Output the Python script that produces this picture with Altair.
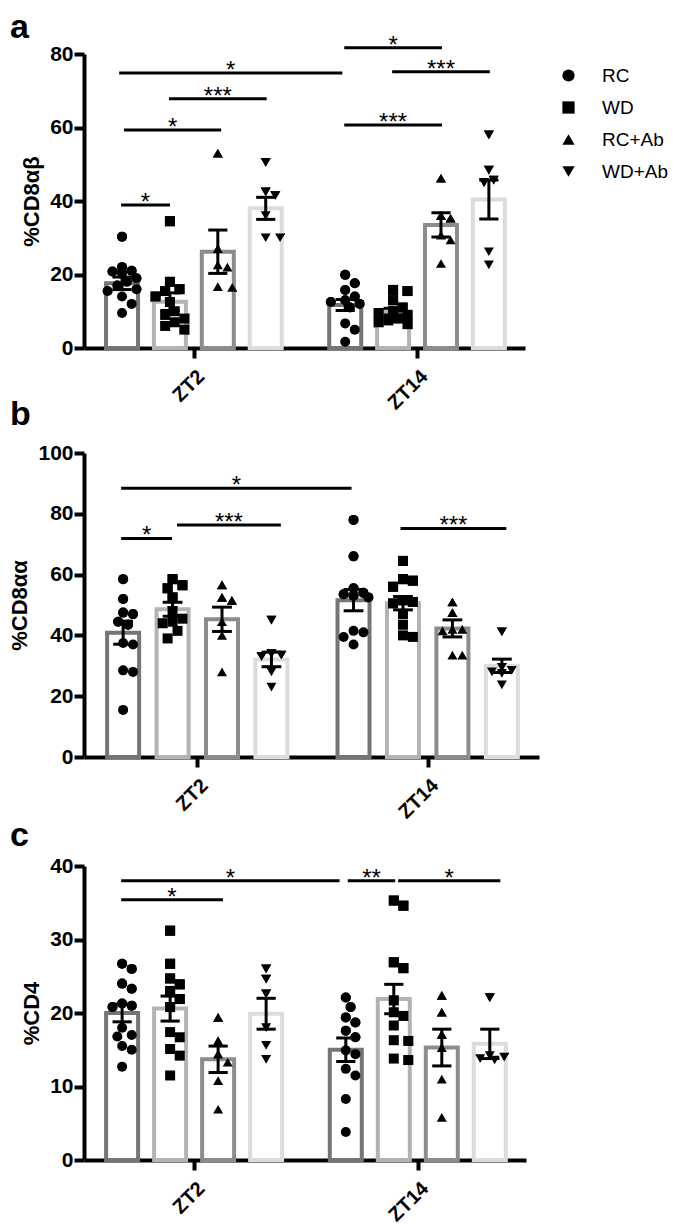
import altair as alt
import pandas as pd
import numpy as np

FONT = "Liberation Sans"
conds = ["RC", "WD", "RC+Ab", "WD+Ab"]
groups = ["ZT2", "ZT14"]
shapes = ["circle", "square", "triangle-up", "triangle-down"]
bar_strokes = ["#757575", "#b3b3b3", "#8c8c8c", "#dcdcdc"]

# ---- Panel a : %CD8ab ----
a_zt2_rc = [30.3, 22.0, 21.0, 20.8, 20.5, 19.0, 18.0, 17.0, 16.0, 15.5, 14.0, 12.0, 9.5]
a_zt2_wd = [34.5, 18.0, 16.0, 15.5, 14.0, 12.5, 10.0, 9.0, 8.0, 7.0, 6.0, 5.0]
a_zt2_rcab = [53.0, 27.0, 22.6, 22.0, 16.7, 16.5]
a_zt2_wdab = [50.5, 42.5, 41.5, 36.0, 30.0, 30.0]
a_zt14_rc = [19.9, 17.6, 15.8, 14.0, 13.0, 12.5, 12.0, 11.0, 6.7, 5.0, 1.7]
a_zt14_wd = [15.8, 15.5, 13.0, 11.0, 10.0, 9.5, 9.0, 8.0, 7.5, 7.0, 6.5]
a_zt14_rcab = [46.2, 36.0, 35.3, 30.7, 29.4, 23.0]
a_zt14_wdab = [58.0, 48.4, 45.7, 45.0, 26.2, 22.6]
a_mean = [17.6, 12.6, 26.2, 38.0, 11.7, 9.9, 33.5, 40.4]
a_sem = [1.7, 2.4, 5.9, 3.0, 1.5, 0.9, 3.3, 5.3]
a_sig_x1 = [0.63, 1.67, 0.73, 0.67, 5.33, 6.33, 5.33]
a_sig_x2 = [5.29, 3.71, 2.76, 1.69, 7.37, 8.37, 7.37]
a_sig_y = [74.8, 67.8, 59.3, 38.9, 81.7, 75.2, 60.7]
a_sig_lab = ["*", "***", "*", "*", "*", "***", "***"]

# ---- Panel b : %CD8aa ----
b_zt2_rc = [58.5, 52.0, 47.5, 47.0, 44.5, 43.5, 37.5, 37.0, 28.5, 28.0, 15.5]
b_zt2_wd = [58.5, 56.5, 55.5, 52.5, 48.0, 45.5, 44.5, 44.0, 41.5, 39.0]
b_zt2_rcab = [56.6, 52.5, 51.5, 44.5, 40.0, 28.0]
b_zt2_wdab = [45.0, 34.0, 33.5, 33.0, 28.0, 23.0]
b_zt14_rc = [78.0, 66.0, 55.5, 54.0, 53.5, 53.0, 52.5, 41.5, 41.0, 39.5, 37.0]
b_zt14_wd = [64.5, 58.5, 58.0, 56.0, 51.5, 51.0, 50.5, 47.0, 43.5, 40.0, 39.5]
b_zt14_rcab = [51.0, 47.5, 42.0, 42.0, 41.5, 33.5, 33.5]
b_zt14_wdab = [41.2, 29.5, 28.5, 28.0, 27.5, 23.7]
b_mean = [40.9, 48.6, 45.3, 32.1, 51.6, 50.6, 42.3, 30.0]
b_sem = [3.8, 2.3, 4.0, 2.4, 3.5, 2.2, 2.8, 2.2]
b_sig_x1 = [0.65, 1.78, 0.65, 6.30]
b_sig_x2 = [5.31, 3.88, 1.68, 8.44]
b_sig_y = [88.4, 76.3, 71.9, 75.2]
b_sig_lab = ["*", "***", "*", "***"]

# ---- Panel c : %CD4 ----
c_zt2_rc = [26.7, 26.0, 24.0, 23.3, 21.3, 21.0, 20.8, 18.0, 17.0, 16.8, 15.5, 15.0, 12.7]
c_zt2_wd = [31.2, 26.7, 24.7, 23.9, 23.0, 21.9, 20.8, 17.4, 16.7, 15.1, 14.2, 11.5]
c_zt2_rcab = [19.4, 16.2, 14.4, 13.3, 10.8, 6.9]
c_zt2_wdab = [26.0, 24.6, 22.6, 18.0, 15.6, 13.7]
c_zt14_rc = [22.1, 20.8, 19.4, 18.7, 17.6, 16.7, 14.9, 14.4, 12.4, 11.5, 8.3, 3.8]
c_zt14_wd = [35.3, 34.6, 26.9, 26.1, 21.7, 20.1, 19.6, 18.3, 16.3, 16.2, 13.8, 13.6]
c_zt14_rcab = [22.4, 20.1, 17.1, 15.3, 11.0, 5.8]
c_zt14_wdab = [22.1, 14.2, 14.0, 13.8, 13.6]
c_mean = [20.0, 20.6, 13.7, 19.9, 15.0, 21.9, 15.3, 15.8]
c_sem = [1.2, 1.7, 1.8, 2.1, 1.6, 2.0, 2.5, 2.0]
c_sig_x1 = [0.67, 0.67, 5.39, 6.44]
c_sig_x2 = [5.22, 2.79, 6.38, 8.57]
c_sig_y = [38.0, 35.4, 38.0, 38.0]
c_sig_lab = ["*", "*", "**", "*"]

# layout constants
BASE = [0.69, 5.35]
XMAX = 9.0
TICKS = [BASE[0] + 1.5, BASE[1] + 1.5]


def swarm(vals, ypx, xpx, diam=10.0, step=0.1, maxoff=0.32):
    cands = [0.0]
    k = 1
    while k * step <= maxoff + 1e-9:
        cands += [k * step, -k * step]
        k += 1
    order = sorted(range(len(vals)), key=lambda i: -vals[i])
    placed, offs = [], [0.0] * len(vals)
    for i in order:
        best, bestpen = 0.0, None
        for c in cands:
            pen = 0.0
            for po, pv in placed:
                d = np.hypot((c - po) * xpx, (vals[i] - pv) * ypx)
                if d < diam:
                    pen += diam - d
            if pen == 0:
                best = c
                break
            if bestpen is None or pen < bestpen:
                best, bestpen = c, pen
        offs[i] = best
        placed.append((best, vals[i]))
    return offs


def make_panel(letter, ytitle, ymax, ystep, width, height, pts, means, sems,
               sx1, sx2, sy, slab, letter_y, ghost_y, legend):
    ypx = height / ymax
    xpx = width / XMAX
    rows = []
    for g in range(2):
        for k in range(4):
            i = g * 4 + k
            xc = BASE[g] + k
            vals = pts[g][k]
            for v, o in zip(vals, swarm(vals, ypx, xpx)):
                rows.append({"kind": "pt", "cond": conds[k], "x": xc + o, "y": v})
            rows.append({"kind": "bar", "bcond": conds[k], "x": xc, "y": means[i], "y2": 0.0})
            lo, hi = means[i] - sems[i], means[i] + sems[i]
            rows.append({"kind": "stem", "x": xc, "y": lo, "y2": hi})
            for yy in (lo, hi):
                rows.append({"kind": "cap", "x": xc - 0.2, "x2": xc + 0.2, "y": yy})
    for a1, a2, yy, lb in zip(sx1, sx2, sy, slab):
        rows.append({"kind": "sig", "x": a1, "x2": a2, "y": yy, "lab": lb, "xm": (a1 + a2) / 2})
    df = pd.DataFrame(rows)

    xs = alt.Scale(domain=[0, XMAX], nice=False, zero=False)
    ys = alt.Scale(domain=[0, ymax], nice=False)
    xaxis = alt.Axis(values=TICKS, labelExpr="datum.value < 4 ? 'ZT2' : 'ZT14'",
                     labelAngle=-45, title="", labelFontSize=20, labelPadding=8)
    yaxis = alt.Axis(values=list(range(0, ymax + 1, ystep)), title=ytitle)
    X = alt.X("x:Q", scale=xs, axis=xaxis)
    Y = alt.Y("y:Q", scale=ys, axis=yaxis)

    base = alt.Chart(df)
    bars = base.transform_filter("datum.kind == 'bar'").mark_bar(
        size=32, fill="white", strokeWidth=4).encode(
        x=X, y=Y, y2="y2:Q",
        stroke=alt.Stroke("bcond:N", scale=alt.Scale(domain=conds, range=bar_strokes), legend=None),
    )
    if legend:
        leg = alt.Legend(
            title=" ", titleFontSize=8, titlePadding=4, orient="right", offset=34, padding=0,
            labelFontSize=19, labelFont=FONT, labelColor="black",
            symbolSize=150, symbolFillColor="black", symbolStrokeColor="black",
            symbolStrokeWidth=0, symbolOpacity=1,
            rowPadding=12, labelOffset=24)
        shape = alt.Shape("cond:N", scale=alt.Scale(domain=conds, range=shapes), legend=leg)
    else:
        shape = alt.Shape("cond:N", scale=alt.Scale(domain=conds, range=shapes), legend=None)
    pt_base = base.transform_filter("datum.kind == 'pt'").mark_point(
        filled=True, size=100, color="black", opacity=1, strokeWidth=0)
    points_under = pt_base.encode(x=X, y=Y, shape=shape)
    points = pt_base.encode(x=X, y=Y, shape=shape)
    stems = base.transform_filter("datum.kind == 'stem'").mark_rule(color="black", strokeWidth=3).encode(
        x=X, y=Y, y2="y2:Q")
    caps = base.transform_filter("datum.kind == 'cap'").mark_rule(color="black", strokeWidth=3).encode(
        x=X, x2="x2:Q", y=Y)
    sig = base.transform_filter("datum.kind == 'sig'").mark_rule(color="black", strokeWidth=3).encode(
        x=X, x2="x2:Q", y=Y)
    sigt = base.transform_filter("datum.kind == 'sig'").mark_text(
        fontSize=24, baseline="alphabetic", dy=5, color="black", font=FONT).encode(
        x=alt.X("xm:Q", scale=xs, axis=xaxis), y=Y, text="lab:N")
    let = alt.Chart(pd.DataFrame({"t": [letter]})).mark_text(
        fontSize=34, fontWeight="bold", align="left", baseline="alphabetic", color="black", font=FONT
    ).encode(x=alt.value(-74), y=alt.value(letter_y), text="t:N")
    ghost = alt.Chart(pd.DataFrame({"t": [0]})).mark_rule(opacity=0, strokeWidth=0.1).encode(
        x=alt.value(0), x2=alt.value(1), y=alt.value(ghost_y))
    return alt.layer(points_under, bars, points, stems, caps, sig, sigt, let, ghost).properties(
        width=width, height=height)


pa = make_panel("a", "%CD8αβ", 80, 20, 441, 294,
                [[a_zt2_rc, a_zt2_wd, a_zt2_rcab, a_zt2_wdab], [a_zt14_rc, a_zt14_wd, a_zt14_rcab, a_zt14_wdab]],
                a_mean, a_sem, a_sig_x1, a_sig_x2, a_sig_y, a_sig_lab, -16, -46, True)
pb = make_panel("b", "%CD8αα", 100, 20, 455, 304,
                [[b_zt2_rc, b_zt2_wd, b_zt2_rcab, b_zt2_wdab], [b_zt14_rc, b_zt14_wd, b_zt14_rcab, b_zt14_wdab]],
                b_mean, b_sem, b_sig_x1, b_sig_x2, b_sig_y, b_sig_lab, -28, -56, False)
pc = make_panel("c", "%CD4", 40, 10, 442, 294,
                [[c_zt2_rc, c_zt2_wd, c_zt2_rcab, c_zt2_wdab], [c_zt14_rc, c_zt14_wd, c_zt14_rcab, c_zt14_wdab]],
                c_mean, c_sem, c_sig_x1, c_sig_x2, c_sig_y, c_sig_lab, -20, -60, False)

chart = alt.vconcat(pa, pb, pc, spacing=-17).resolve_scale(
    x="independent", y="independent", shape="independent", stroke="independent"
).properties(padding=0).configure(
    font=FONT).configure_view(stroke=None).configure_axis(
    domainColor="black", domainWidth=4, tickColor="black", tickWidth=4, tickSize=10,
    labelFont=FONT, labelFontSize=21, labelFontWeight="bold", labelColor="black", labelPadding=1,
    titleFont=FONT, titleFontSize=22, titleFontWeight="bold", titleColor="black", titlePadding=6,
    grid=False,
)

chart.save("out.html", embed_options={"renderer": "svg", "actions": False})
